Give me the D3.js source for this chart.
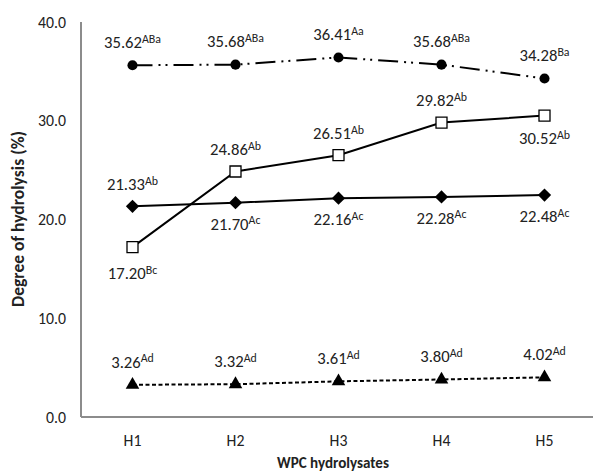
<!DOCTYPE html>
<html>
<head>
<meta charset="utf-8">
<script src="https://cdn.jsdelivr.net/npm/d3@7"></script>
<style>
  body { margin: 0; background: #fff; }
  svg text { font-family: Carlito, Lato, "Open Sans", sans-serif; fill: #222; }
</style>
</head>
<body>
<div class="js-chart"></div>
<script>
// chart data
var categories = ['H1', 'H2', 'H3', 'H4', 'H5'];
var yTicks = [0, 10, 20, 30, 40];

var circleValues = [35.62, 35.68, 36.41, 35.68, 34.28];
var circleLetters = ['ABa', 'ABa', 'Aa', 'ABa', 'Ba'];

var squareValues = [17.20, 24.86, 26.51, 29.82, 30.52];
var squareLetters = ['Bc', 'Ab', 'Ab', 'Ab', 'Ab'];

var diamondValues = [21.33, 21.70, 22.16, 22.28, 22.48];
var diamondLetters = ['Ab', 'Ac', 'Ac', 'Ac', 'Ac'];

var triangleValues = [3.26, 3.32, 3.61, 3.80, 4.02];
var triangleLetters = ['Ad', 'Ad', 'Ad', 'Ad', 'Ad'];

var W = 593, H = 473;
var margin = { left: 81, top: 22, right: -3, bottom: 56 };

var svg = d3.select('.js-chart').append('svg').attr('width', W).attr('height', H);

// pick a font size so a sample string gets the width it has in the picture
function fitSize(str, weight, width) {
  var t = svg.append('text').style('font-size', '100px').style('font-weight', weight).text(str);
  var len = t.node().getComputedTextLength();
  t.remove();
  return (100 * width / len).toFixed(2) + 'px';
}
var tickSize = fitSize('40.0', 'normal', 28);
var titleXSize = fitSize('WPC hydrolysates', 'bold', 112);
var titleYSize = fitSize('Degree of hydrolysis (%)', 'bold', 176);
var numSize = fitSize('35.62', 'normal', 38);
var supSize = fitSize('ABa', 'normal', 19);

var x = d3.scaleBand().domain(categories).range([margin.left, W - margin.right]);
var y = d3.scaleLinear().domain([0, 40]).range([H - margin.bottom, margin.top]);
var cx = function (d, i) { return x(categories[i]) + x.bandwidth() / 2; };

// y tick labels
svg.append('g').selectAll('text').data(yTicks).enter().append('text')
  .attr('x', margin.left - 15)
  .attr('y', function (d) { return y(d); })
  .attr('dy', '0.35em')
  .attr('text-anchor', 'end')
  .style('font-size', tickSize)
  .text(function (d) { return d3.format('.1f')(d); });

// x tick labels
svg.append('g').selectAll('text').data(categories).enter().append('text')
  .attr('x', function (d) { return x(d) + x.bandwidth() / 2; })
  .attr('y', y(0) + 23)
  .attr('dy', '0.35em')
  .attr('text-anchor', 'middle')
  .style('font-size', tickSize)
  .text(function (d) { return d; });

// axes lines
svg.append('line')
  .attr('x1', margin.left).attr('x2', margin.left)
  .attr('y1', y(40)).attr('y2', y(0))
  .attr('stroke', '#8c8c8c').attr('stroke-width', 2);
svg.append('line')
  .attr('x1', margin.left).attr('x2', W)
  .attr('y1', y(0)).attr('y2', y(0))
  .attr('stroke', '#8c8c8c').attr('stroke-width', 2);

// axis titles
svg.append('text')
  .attr('x', 333)
  .attr('y', 463)
  .attr('dy', '0.35em')
  .attr('text-anchor', 'middle')
  .style('font-size', titleXSize).style('font-weight', 'bold')
  .text('WPC hydrolysates');
svg.append('text')
  .attr('transform', 'translate(18,219)rotate(-90)')
  .attr('text-anchor', 'middle')
  .attr('dy', '0.35em')
  .style('font-size', titleYSize).style('font-weight', 'bold')
  .text('Degree of hydrolysis (%)');

var line = d3.line().x(cx).y(function (d) { return y(d); });

function drawSeries(values, dash, symbol, size, filled, rotate) {
  var g = svg.append('g');
  g.append('path')
    .datum(values)
    .attr('d', line)
    .attr('fill', 'none')
    .attr('stroke', '#000')
    .attr('stroke-width', 2)
    .attr('stroke-dasharray', dash);
  g.selectAll('path.mark').data(values).enter().append('path')
    .attr('class', 'mark')
    .attr('transform', function (d, i) {
      return 'translate(' + cx(d, i) + ',' + y(d) + ')' + (rotate ? 'rotate(45)' : '');
    })
    .attr('d', d3.symbol().type(symbol).size(size))
    .attr('fill', filled ? '#000' : '#fff')
    .attr('stroke', '#000')
    .attr('stroke-width', filled ? 0 : 1.3);
}

function drawLabels(values, letters, offsets) {
  var t = svg.append('g').selectAll('text').data(values).enter().append('text')
    .attr('x', function (d, i) { return cx(d, i); })
    .attr('y', function (d, i) { return y(d) + offsets[i]; })
    .attr('dy', '0.35em')
    .attr('text-anchor', 'middle')
    .style('font-size', numSize);
  t.append('tspan').text(function (d) { return d3.format('.2f')(d); });
  t.append('tspan')
    .attr('dy', '-0.45em')
    .style('font-size', supSize)
    .text(function (d, i) { return letters[i]; });
}

drawSeries(circleValues, '20,6,2,5,2,6', d3.symbolCircle, 80, true, false);
drawSeries(squareValues, null, d3.symbolSquare, 121, false, false);
drawSeries(diamondValues, null, d3.symbolSquare, 88, true, true);
drawSeries(triangleValues, '4,2.5', d3.symbolTriangle, 80, true, false);

drawLabels(circleValues, circleLetters, [-23, -23, -23, -23, -23]);
drawLabels(squareValues, squareLetters, [26, -22, -22, -22, 23]);
drawLabels(diamondValues, diamondLetters, [-22, 21, 21, 21, 21]);
drawLabels(triangleValues, triangleLetters, [-23, -23, -23, -23, -23]);
</script>
</body>
</html>
